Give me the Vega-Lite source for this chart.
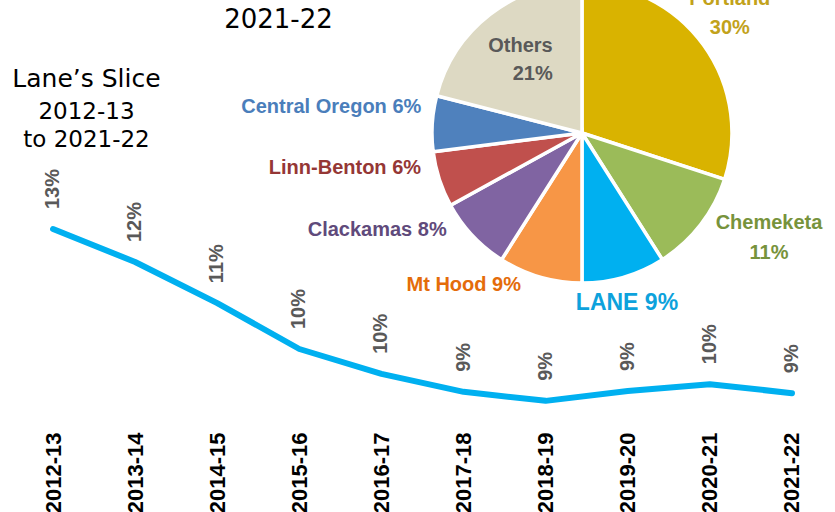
{
  "$schema": "https://vega.github.io/schema/vega-lite/v6.json",
  "width": 825,
  "height": 270,
  "autosize": {"type": "none"},
  "padding": {"left": 10, "top": 160, "right": 0, "bottom": 82},
  "background": "white",
  "config": {"view": {"stroke": null}},
  "datasets": {
    "lane": [
      {"year": "2012-13", "share": 0.1319},
      {"year": "2013-14", "share": 0.1242},
      {"year": "2014-15", "share": 0.1146},
      {"year": "2015-16", "share": 0.1039},
      {"year": "2016-17", "share": 0.0981},
      {"year": "2017-18", "share": 0.0939},
      {"year": "2018-19", "share": 0.0918},
      {"year": "2019-20", "share": 0.0941},
      {"year": "2020-21", "share": 0.0957},
      {"year": "2021-22", "share": 0.0936}
    ],
    "pie": [
      {"college": "Portland", "share": 0.30, "rank": 1, "label": "Portland\n30%"},
      {"college": "Chemeketa", "share": 0.11, "rank": 2, "label": "Chemeketa\n11%"},
      {"college": "LANE", "share": 0.09, "rank": 3, "label": "LANE 9%"},
      {"college": "Mt Hood", "share": 0.09, "rank": 4, "label": "Mt Hood 9%"},
      {"college": "Clackamas", "share": 0.08, "rank": 5, "label": "Clackamas 8%"},
      {"college": "Linn-Benton", "share": 0.06, "rank": 6, "label": "Linn-Benton 6%"},
      {"college": "Central Oregon", "share": 0.06, "rank": 7, "label": "Central Oregon 6%"},
      {"college": "Others", "share": 0.21, "rank": 8, "label": "Others\n21%"}
    ]
  },
  "resolve": {"axis": {"x": "independent", "y": "independent"}},
  "layer": [
    {
      "data": {"name": "pie"},
      "mark": {"type": "arc", "x": {"expr": "width*0.6933"}, "y": {"expr": "height*-0.1"}, "outerRadius": 150, "stroke": "white", "strokeWidth": 3.5},
      "encoding": {
        "theta": {"field": "share", "type": "quantitative", "stack": true},
        "order": {"field": "rank", "type": "quantitative"},
        "color": {"field": "college", "type": "nominal", "legend": null,
          "scale": {"domain": ["Portland", "Chemeketa", "LANE", "Mt Hood", "Clackamas", "Linn-Benton", "Central Oregon", "Others"],
                    "range": ["#D9B300", "#9BBB59", "#00B0F0", "#F79646", "#8064A2", "#C0504D", "#4F81BD", "#DDD9C3"]}}
      }
    },
    {
      "data": {"name": "pie"},
      "mark": {"type": "text", "x": {"expr": "width*0.6933"}, "y": {"expr": "height*-0.1"}, "radius": 200, "dx": -14, "dy": -16, "align": "center", "baseline": "middle", "lineBreak": "\n", "lineHeight": 29, "font": "Liberation Sans", "fontWeight": "bold", "fontSize": 20, "color": "#C2A21B"},
      "encoding": {
        "theta": {"field": "share", "type": "quantitative", "stack": true},
        "order": {"field": "rank", "type": "quantitative"},
        "text": {"condition": {"test": "datum.college === 'Portland'", "field": "label"}, "value": ""}
      }
    },
    {
      "data": {"name": "pie"},
      "mark": {"type": "text", "x": {"expr": "width*0.6933"}, "y": {"expr": "height*-0.1"}, "radius": 200, "dx": 29, "dy": -33, "align": "center", "baseline": "middle", "lineBreak": "\n", "lineHeight": 30, "font": "Liberation Sans", "fontWeight": "bold", "fontSize": 20, "color": "#77933C"},
      "encoding": {
        "theta": {"field": "share", "type": "quantitative", "stack": true},
        "order": {"field": "rank", "type": "quantitative"},
        "text": {"condition": {"test": "datum.college === 'Chemeketa'", "field": "label"}, "value": ""}
      }
    },
    {
      "data": {"name": "pie"},
      "mark": {"type": "text", "x": {"expr": "width*0.6933"}, "y": {"expr": "height*-0.1"}, "radius": 172, "dx": -3, "dy": 5, "align": "center", "baseline": "middle", "font": "Liberation Sans", "fontWeight": "bold", "fontSize": 23, "color": "#0DA2DC"},
      "encoding": {
        "theta": {"field": "share", "type": "quantitative", "stack": true},
        "order": {"field": "rank", "type": "quantitative"},
        "text": {"condition": {"test": "datum.college === 'LANE'", "field": "label"}, "value": ""}
      }
    },
    {
      "data": {"name": "pie"},
      "mark": {"type": "text", "x": {"expr": "width*0.6933"}, "y": {"expr": "height*-0.1"}, "radius": 165, "dx": -15, "dy": -6, "align": "right", "baseline": "middle", "font": "Liberation Sans", "fontWeight": "bold", "fontSize": 20, "color": "#E46C0A"},
      "encoding": {
        "theta": {"field": "share", "type": "quantitative", "stack": true},
        "order": {"field": "rank", "type": "quantitative"},
        "text": {"condition": {"test": "datum.college === 'Mt Hood'", "field": "label"}, "value": ""}
      }
    },
    {
      "data": {"name": "pie"},
      "mark": {"type": "text", "x": {"expr": "width*0.6933"}, "y": {"expr": "height*-0.1"}, "radius": 165, "dx": -15, "dy": -16, "align": "right", "baseline": "middle", "font": "Liberation Sans", "fontWeight": "bold", "fontSize": 20, "color": "#604A7B"},
      "encoding": {
        "theta": {"field": "share", "type": "quantitative", "stack": true},
        "order": {"field": "rank", "type": "quantitative"},
        "text": {"condition": {"test": "datum.college === 'Clackamas'", "field": "label"}, "value": ""}
      }
    },
    {
      "data": {"name": "pie"},
      "mark": {"type": "text", "x": {"expr": "width*0.6933"}, "y": {"expr": "height*-0.1"}, "radius": 165, "dx": -4, "dy": -16, "align": "right", "baseline": "middle", "font": "Liberation Sans", "fontWeight": "bold", "fontSize": 20, "color": "#953735"},
      "encoding": {
        "theta": {"field": "share", "type": "quantitative", "stack": true},
        "order": {"field": "rank", "type": "quantitative"},
        "text": {"condition": {"test": "datum.college === 'Linn-Benton'", "field": "label"}, "value": ""}
      }
    },
    {
      "data": {"name": "pie"},
      "mark": {"type": "text", "x": {"expr": "width*0.6933"}, "y": {"expr": "height*-0.1"}, "radius": 165, "dx": 4, "dy": -16, "align": "right", "baseline": "middle", "font": "Liberation Sans", "fontWeight": "bold", "fontSize": 20, "color": "#4A7EBB"},
      "encoding": {
        "theta": {"field": "share", "type": "quantitative", "stack": true},
        "order": {"field": "rank", "type": "quantitative"},
        "text": {"condition": {"test": "datum.college === 'Central Oregon'", "field": "label"}, "value": ""}
      }
    },
    {
      "data": {"name": "pie"},
      "mark": {"type": "text", "x": {"expr": "width*0.6933"}, "y": {"expr": "height*-0.1"}, "radius": 100, "dx": 32, "dy": -8, "align": "right", "baseline": "middle", "lineBreak": "\n", "lineHeight": 28, "font": "Liberation Sans", "fontWeight": "bold", "fontSize": 20, "color": "#595959"},
      "encoding": {
        "theta": {"field": "share", "type": "quantitative", "stack": true},
        "order": {"field": "rank", "type": "quantitative"},
        "text": {"condition": {"test": "datum.college === 'Others'", "field": "label"}, "value": ""}
      }
    },
    {
      "data": {"name": "lane"},
      "mark": {"type": "line", "color": "#00B0F0", "strokeWidth": 6, "strokeCap": "round", "strokeJoin": "round"},
      "encoding": {
        "x": {"field": "year", "type": "ordinal", "scale": {"type": "point", "padding": 0.524},
          "axis": {"orient": "bottom", "labelAngle": -90, "labelFont": "Liberation Sans", "labelFontWeight": "bold", "labelFontSize": 22, "labelColor": "black", "ticks": false, "domain": false, "grid": false, "labelPadding": 2, "title": null}},
        "y": {"field": "share", "type": "quantitative", "scale": {"domain": [0.085, 0.148], "zero": false, "nice": false},
          "axis": {"orient": "left", "labels": false, "ticks": false, "domain": false, "grid": false, "title": "Lane’s Slice", "titleAngle": 0, "titleX": 76, "titleY": -74, "titleAlign": "center", "titleBaseline": "alphabetic", "titleFont": "DejaVu Sans", "titleFontSize": 25, "titleFontWeight": "normal", "titleColor": "black"}}
      }
    },
    {
      "data": {"name": "lane"},
      "mark": {"type": "text", "angle": -90, "align": "left", "baseline": "middle", "dx": 20, "font": "Liberation Sans", "fontWeight": "bold", "fontSize": 20, "color": "#595959"},
      "encoding": {
        "x": {"field": "year", "type": "ordinal", "scale": {"type": "point", "padding": 0.524},
          "axis": {"orient": "top", "labels": false, "ticks": false, "domain": false, "grid": false, "title": "2021-22", "titleAngle": 0, "titleX": 268, "titleY": -133, "titleAlign": "center", "titleBaseline": "alphabetic", "titleFont": "DejaVu Sans", "titleFontSize": 26, "titleFontWeight": "normal", "titleColor": "black"}},
        "y": {"field": "share", "type": "quantitative", "scale": {"domain": [0.085, 0.148], "zero": false, "nice": false},
          "axis": {"orient": "right", "labels": false, "ticks": false, "domain": false, "grid": false, "title": ["2012-13", "to 2021-22"], "titleAngle": 0, "titleX": -749, "titleY": -42, "titleLineHeight": 28, "titleAlign": "center", "titleBaseline": "alphabetic", "titleFont": "DejaVu Sans", "titleFontSize": 23, "titleFontWeight": "normal", "titleColor": "black"}},
        "text": {"field": "share", "type": "quantitative", "format": ".0%"}
      }
    }
  ]
}
